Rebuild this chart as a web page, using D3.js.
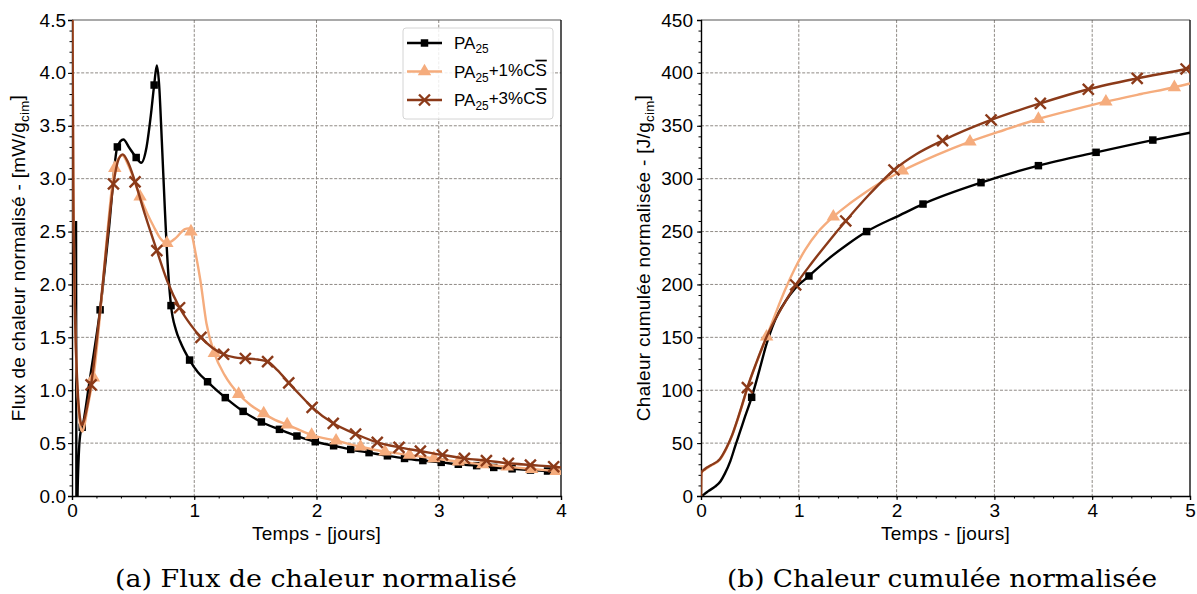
<!DOCTYPE html>
<html><head><meta charset="utf-8">
<script src="https://cdn.jsdelivr.net/npm/d3@7"></script>
<style>
body{margin:0;background:#fff}
svg text{font-family:"Liberation Sans",Arial,sans-serif;fill:#000}
</style>
</head><body>
<svg id="c" width="1197" height="594"></svg>
<script>
// ---------------- DATA ----------------
const seriesLabels = ["PA25", "PA25+1%CS", "PA25+3%CS"];
const seriesColors = ["#000000", "#f5ac7d", "#8b3a19"];
const fluxTicksX = [0, 1, 2, 3, 4];
const fluxTicksY = [0, 0.5, 1, 1.5, 2, 2.5, 3, 3.5, 4, 4.5];
const cumTicksX = [0, 1, 2, 3, 4, 5];
const cumTicksY = [0, 50, 100, 150, 200, 250, 300, 350, 400, 450];

// (a) heat flux [mW/g] vs time [days]
const fluxPA25 = [[0.033,2.60],[0.0345,1.2],[0.036,0.0],[0.040,-0.25],[0.048,0.15],[0.058,0.45],[0.07,0.6],[0.085,0.65],[0.105,0.78],[0.14,1.06],[0.18,1.36],[0.23,1.76],[0.30,2.50],[0.371,3.30],[0.42,3.37],[0.47,3.29],[0.525,3.20],[0.566,3.15],[0.61,3.30],[0.645,3.60],[0.672,3.885],[0.694,4.07],[0.712,3.90],[0.735,3.35],[0.76,2.70],[0.785,2.15],[0.81,1.80],[0.85,1.57],[0.885,1.46],[0.962,1.285],[1.03,1.17],[1.109,1.08],[1.254,0.93],[1.40,0.80],[1.549,0.70],[1.697,0.63],[1.84,0.567],[1.99,0.513],[2.14,0.475],[2.28,0.44],[2.43,0.41],[2.58,0.38],[2.72,0.355],[2.87,0.335],[3.02,0.318],[3.16,0.30],[3.31,0.287],[3.45,0.27],[3.60,0.257],[3.75,0.245],[3.89,0.236],[4.0,0.228]];
const fluxPA25Marks = [[0.083,0.65],[0.23,1.76],[0.371,3.30],[0.525,3.20],[0.672,3.885],[0.81,1.80],[0.962,1.285],[1.109,1.08],[1.254,0.93],[1.40,0.80],[1.549,0.70],[1.697,0.63],[1.84,0.567],[1.99,0.513],[2.14,0.475],[2.28,0.44],[2.43,0.41],[2.58,0.38],[2.72,0.355],[2.87,0.335],[3.02,0.318],[3.16,0.30],[3.31,0.287],[3.45,0.27],[3.60,0.257],[3.75,0.245],[3.89,0.236]];
const fluxCS1 = [[0.003,5.0],[0.008,3.6],[0.014,2.6],[0.025,1.7],[0.04,1.1],[0.055,0.8],[0.07,0.65],[0.085,0.61],[0.10,0.66],[0.125,0.82],[0.15,0.97],[0.175,1.12],[0.23,1.72],[0.29,2.5],[0.35,3.10],[0.41,3.22],[0.47,3.10],[0.557,2.83],[0.62,2.66],[0.667,2.55],[0.72,2.44],[0.776,2.39],[0.85,2.44],[0.92,2.52],[0.953,2.53],[0.973,2.50],[1.01,2.30],[1.05,2.04],[1.10,1.63],[1.164,1.35],[1.25,1.14],[1.363,0.964],[1.46,0.86],[1.568,0.78],[1.66,0.72],[1.76,0.675],[1.96,0.576],[2.16,0.523],[2.36,0.466],[2.56,0.419],[2.76,0.388],[2.96,0.356],[3.16,0.324],[3.36,0.30],[3.56,0.277],[3.76,0.255],[3.96,0.236],[4.0,0.232]];
const fluxCS1Marks = [[0.175,1.12],[0.35,3.10],[0.557,2.83],[0.776,2.39],[0.973,2.50],[1.164,1.35],[1.363,0.964],[1.568,0.78],[1.76,0.675],[1.96,0.576],[2.16,0.523],[2.36,0.466],[2.56,0.419],[2.76,0.388],[2.96,0.356],[3.16,0.324],[3.36,0.30],[3.56,0.277],[3.76,0.255],[3.96,0.236]];
const fluxCS3 = [[0.002,5.0],[0.01,3.0],[0.02,2.0],[0.035,1.3],[0.05,0.93],[0.065,0.74],[0.08,0.67],[0.10,0.72],[0.125,0.85],[0.156,1.05],[0.20,1.45],[0.23,1.76],[0.284,2.38],[0.339,2.95],[0.38,3.18],[0.415,3.23],[0.46,3.15],[0.516,2.97],[0.60,2.65],[0.694,2.32],[0.78,2.03],[0.88,1.78],[0.97,1.62],[1.055,1.50],[1.15,1.40],[1.24,1.34],[1.33,1.31],[1.418,1.30],[1.52,1.29],[1.60,1.27],[1.68,1.19],[1.773,1.07],[1.87,0.95],[1.964,0.838],[2.137,0.687],[2.32,0.586],[2.497,0.507],[2.675,0.46],[2.85,0.425],[3.03,0.388],[3.21,0.356],[3.39,0.334],[3.57,0.309],[3.75,0.293],[3.94,0.277],[4.0,0.27]];
const fluxCS3Marks = [[0.156,1.05],[0.339,2.95],[0.516,2.97],[0.694,2.32],[0.88,1.78],[1.055,1.50],[1.24,1.34],[1.418,1.30],[1.60,1.27],[1.773,1.07],[1.964,0.838],[2.137,0.687],[2.32,0.586],[2.497,0.507],[2.675,0.46],[2.85,0.425],[3.03,0.388],[3.21,0.356],[3.39,0.334],[3.57,0.309],[3.75,0.293],[3.94,0.277]];

// (b) cumulated heat [J/g] vs time [days]
const cumPA25 = [[0,0],[0.03,1.5],[0.08,5],[0.143,8.8],[0.2,14],[0.245,21.4],[0.3,33],[0.348,46.6],[0.4,61],[0.45,75],[0.518,93.3],[0.6,120],[0.671,144],[0.73,160],[0.79,172.7],[0.87,185],[0.96,196],[1.104,208],[1.3,224],[1.5,238],[1.694,250],[2.035,265.6],[2.27,276],[2.863,296.2],[3.45,312.3],[4.04,324.9],[4.62,336.5],[5.0,343.5]];
const cumPA25Marks = [[0.518,93.3],[1.104,208],[1.694,250],[2.27,276],[2.863,296.2],[3.45,312.3],[4.04,324.9],[4.62,336.5]];
const cumCS1 = [[0,0],[0.003,21.5],[0.04,25],[0.1,28.5],[0.194,34.5],[0.263,45.5],[0.32,57.5],[0.365,69.5],[0.42,85.5],[0.474,102],[0.57,126.5],[0.671,150.6],[0.76,172],[0.859,194.7],[0.96,215],[1.063,232.5],[1.2,250],[1.353,264],[1.5,275],[1.643,284.5],[1.85,297],[2.06,307.5],[2.4,322],[2.75,335],[3.1,346],[3.45,356.4],[3.8,365],[4.14,372.8],[4.5,380],[4.84,386.4],[5.0,390]];
const cumCS1Marks = [[0.671,150.6],[1.353,264],[2.06,307.5],[2.75,335],[3.45,356.4],[4.14,372.8],[4.84,386.4]];
const cumCS3 = [[0,0],[0.003,22],[0.04,25.5],[0.1,29],[0.194,35],[0.263,46],[0.32,58],[0.365,70],[0.42,86],[0.474,102.4],[0.57,127],[0.671,150.6],[0.82,177],[0.968,199.5],[1.13,220],[1.3,240],[1.48,260],[1.72,285],[1.973,308.2],[2.2,323],[2.47,336],[2.966,355.5],[3.47,371.2],[3.96,384.5],[4.46,394.8],[4.96,403.7],[5.0,404.5]];
const cumCS3Marks = [[0.474,102.4],[0.968,199.5],[1.48,260],[1.973,308.2],[2.47,336],[2.966,355.5],[3.47,371.2],[3.96,384.5],[4.46,394.8],[4.96,403.7]];

// ---------------- DRAW ----------------
const svg = d3.select("#c");
const shapes = ["square", "triangle", "x"];

function drawMarker(g, shape, color, x, y) {
  if (shape === "square") {
    g.append("path").attr("d", d3.symbol(d3.symbolSquare, 56)()).attr("transform", `translate(${x},${y})`).attr("fill", color);
  } else if (shape === "triangle") {
    g.append("path").attr("d", d3.symbol(d3.symbolTriangle, 78)()).attr("transform", `translate(${x},${y})`).attr("fill", color);
  } else {
    g.append("path").attr("d", d3.symbol(d3.symbolX, 80)()).attr("transform", `translate(${x},${y})`)
      .attr("fill", "none").attr("stroke", color).attr("stroke-width", 2.4);
  }
}

function unitLabel(text, pre, sub, post) {
  text.append("tspan").text(pre);
  text.append("tspan").attr("font-size", "70%").attr("dy", "0.3em").text(sub);
  text.append("tspan").attr("dy", "-0.3em").text(post);
}

function panel(cfg) {
  const {x0, x1, y0, y1} = cfg.box;
  const x = d3.scaleLinear().domain(cfg.xDomain).range([x0, x1]);
  const y = d3.scaleLinear().domain(cfg.yDomain).range([y1, y0]);
  const g = svg.append("g");
  const clipId = "clip" + cfg.id;
  svg.append("clipPath").attr("id", clipId).append("rect")
    .attr("x", x0).attr("y", y0).attr("width", x1 - x0).attr("height", y1 - y0);

  // grid
  const grid = g.append("g").attr("stroke", "#8f8a85").attr("stroke-width", 1).attr("stroke-dasharray", "3,1.6");
  cfg.xTicks.slice(1, -1).forEach(t => grid.append("line").attr("x1", x(t)).attr("x2", x(t)).attr("y1", y0).attr("y2", y1));
  cfg.yTicks.slice(1, -1).forEach(t => grid.append("line").attr("y1", y(t)).attr("y2", y(t)).attr("x1", x0).attr("x2", x1));

  // frame (top/right)
  g.append("line").attr("x1", x0).attr("x2", x1).attr("y1", y0).attr("y2", y0).attr("stroke", "#555").attr("stroke-width", 1.2);
  g.append("line").attr("x1", x1).attr("x2", x1).attr("y1", y0).attr("y2", y1).attr("stroke", "#111").attr("stroke-width", 1.4);

  // minor ticks
  const minorX = d3.range(cfg.xDomain[0], cfg.xDomain[1] + 1e-9, cfg.xMinor);
  const minorY = d3.range(cfg.yDomain[0], cfg.yDomain[1] + 1e-9, cfg.yMinor);
  g.append("g").attr("transform", `translate(0,${y1})`)
    .call(d3.axisBottom(x).tickValues(minorX).tickSize(2.5).tickFormat(""))
    .call(a => a.select(".domain").remove());
  g.append("g").attr("transform", `translate(${x0},0)`)
    .call(d3.axisLeft(y).tickValues(minorY).tickSize(2.5).tickFormat(""))
    .call(a => a.select(".domain").remove());

  // major axes
  const ax = g.append("g").attr("transform", `translate(0,${y1})`)
    .call(d3.axisBottom(x).tickValues(cfg.xTicks).tickSize(4).tickPadding(4).tickFormat(d3.format("d")));
  const ay = g.append("g").attr("transform", `translate(${x0},0)`)
    .call(d3.axisLeft(y).tickValues(cfg.yTicks).tickSize(4).tickPadding(cfg.yPad).tickFormat(d3.format(cfg.yFmt)));
  [ax, ay].forEach(a => {
    a.attr("font-family", null).attr("font-size", null);
    a.selectAll("text").attr("font-size", 19).attr("fill", "#000");
    a.select(".domain").attr("stroke", "#000").attr("stroke-width", 1.4);
    a.selectAll(".tick line").attr("stroke", "#000");
  });

  // lines + markers
  const line = d3.line().x(d => x(d[0])).y(d => y(d[1])).curve(d3.curveMonotoneX);
  const plot = g.append("g").attr("clip-path", `url(#${clipId})`);
  cfg.series.forEach((s, i) => {
    plot.append("path").datum(s.line).attr("d", line).attr("fill", "none")
      .attr("stroke", seriesColors[i]).attr("stroke-width", 2.4).attr("stroke-linejoin", "round");
    s.marks.forEach(m => drawMarker(plot, shapes[i], seriesColors[i], x(m[0]), y(m[1])));
  });

  // axis titles
  svg.append("text").attr("x", (x0 + x1) / 2).attr("y", 540).attr("text-anchor", "middle")
    .attr("font-size", 19).attr("letter-spacing", 0.3).text("Temps - [jours]");
  const yt = svg.append("text").attr("text-anchor", "middle").attr("font-size", 19).attr("letter-spacing", 0.3)
    .attr("transform", `translate(${cfg.yTitleX},${(y0 + y1) / 2}) rotate(-90)`);
  unitLabel(yt, cfg.yTitle[0], cfg.yTitle[1], cfg.yTitle[2]);

  // caption
  svg.append("text").attr("x", cfg.capX).attr("y", 587).attr("text-anchor", "middle")
    .style("font-family", "'DejaVu Serif',serif")
    .attr("font-size", 25).attr("textLength", cfg.capW).attr("lengthAdjust", "spacingAndGlyphs")
    .text(cfg.caption);
  return {x, y};
}

panel({
  id: "a", box: {x0: 72, x1: 561, y0: 20, y1: 496},
  xDomain: [0, 4], yDomain: [0, 4.5], xTicks: fluxTicksX, yTicks: fluxTicksY,
  xMinor: 0.2, yMinor: 0.1, yFmt: ".1f", yPad: 2,
  series: [{line: fluxPA25, marks: fluxPA25Marks}, {line: fluxCS1, marks: fluxCS1Marks}, {line: fluxCS3, marks: fluxCS3Marks}],
  yTitleX: 25, yTitle: ["Flux de chaleur normalisé - [mW/g", "cim", "]"],
  caption: "(a) Flux de chaleur normalisé", capX: 316, capW: 402
});
panel({
  id: "b", box: {x0: 701, x1: 1190, y0: 20, y1: 496},
  xDomain: [0, 5], yDomain: [0, 450], xTicks: cumTicksX, yTicks: cumTicksY,
  xMinor: 0.2, yMinor: 10, yFmt: "d", yPad: 4,
  series: [{line: cumPA25, marks: cumPA25Marks}, {line: cumCS1, marks: cumCS1Marks}, {line: cumCS3, marks: cumCS3Marks}],
  yTitleX: 650, yTitle: ["Chaleur cumulée normalisée - [J/g", "cim", "]"],
  caption: "(b) Chaleur cumulée normalisée", capX: 942, capW: 430
});

// legend (panel a)
const lg = svg.append("g");
lg.append("rect").attr("x", 403).attr("y", 28).attr("width", 150).attr("height", 91).attr("rx", 3)
  .attr("fill", "#fff").attr("fill-opacity", 0.85).attr("stroke", "#d4d4d4").attr("stroke-width", 1);
seriesLabels.forEach((lab, i) => {
  const cy = 43 + i * 28.5;
  lg.append("line").attr("x1", 407).attr("x2", 442).attr("y1", cy).attr("y2", cy)
    .attr("stroke", seriesColors[i]).attr("stroke-width", 2.4);
  drawMarker(lg, shapes[i], seriesColors[i], 424.5, cy);
  const t = lg.append("text").attr("x", 454).attr("y", cy + 6).attr("font-size", 17);
  t.append("tspan").text("PA");
  t.append("tspan").attr("font-size", "70%").attr("dy", "0.35em").text("25");
  if (i > 0) {
    t.append("tspan").attr("dy", "-0.35em").text(i === 1 ? "+1%C" : "+3%C");
    t.append("tspan").style("text-decoration", "overline").text("S");
  }
});
</script>
</body></html>
